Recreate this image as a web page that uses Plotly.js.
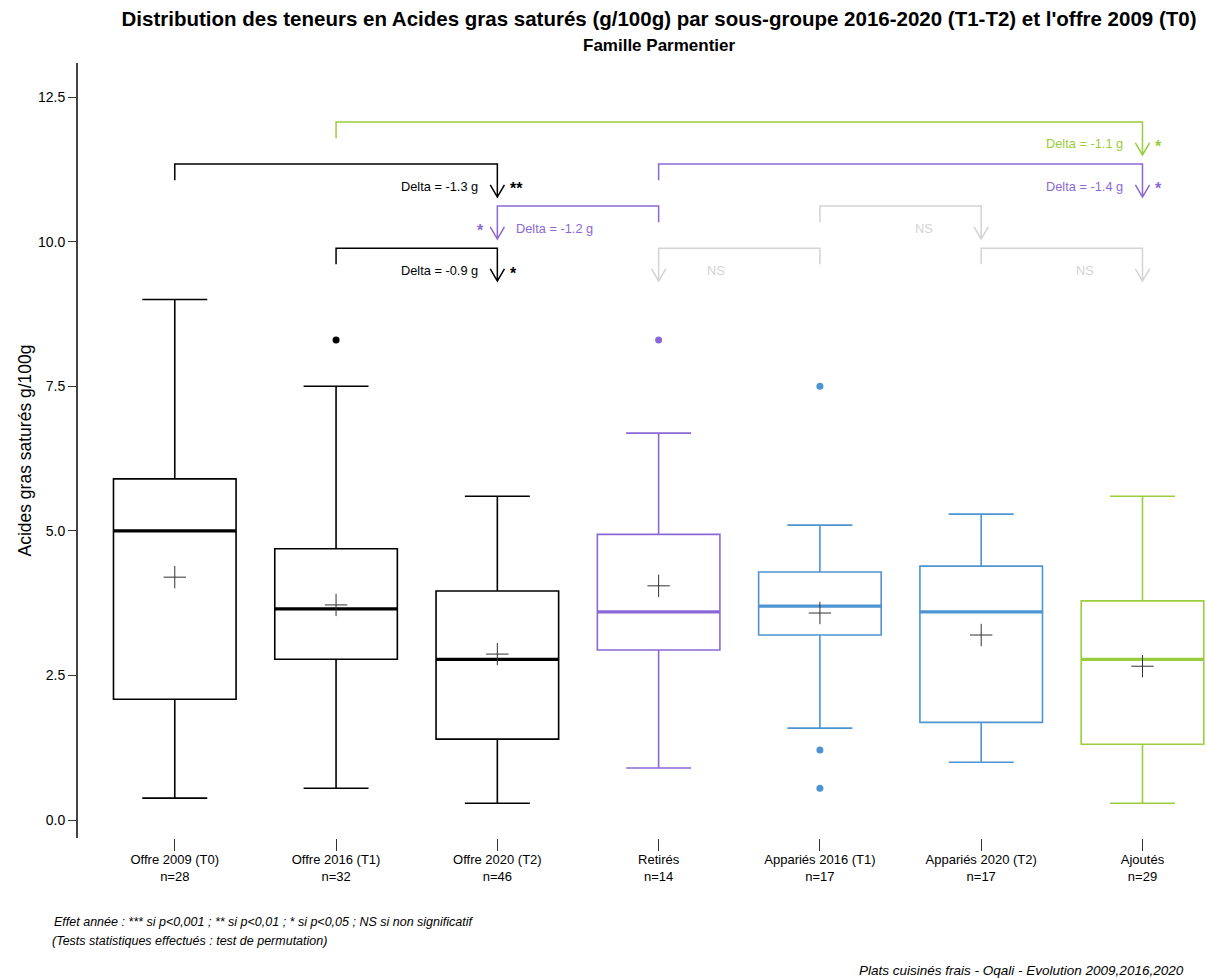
<!DOCTYPE html>
<html>
<head>
<meta charset="utf-8">
<script src="https://cdn.plot.ly/plotly-3.0.1.min.js"></script>
<style>body{margin:0;padding:0;background:#fff;}#chart{width:1207px;height:978px;}</style>
</head>
<body>
<div id="chart"></div>
<script>
// ---- Data ----
const categories = ["Offre 2009 (T0)", "Offre 2016 (T1)", "Offre 2020 (T2)", "Retirés", "Appariés 2016 (T1)", "Appariés 2020 (T2)", "Ajoutés"];
const counts = [28, 32, 46, 14, 17, 17, 29];
const lowerWhisker = [0.38, 0.55, 0.29, 0.90, 1.59, 1.00, 0.29];
const q1Values     = [2.09, 2.78, 1.40, 2.94, 3.20, 1.69, 1.31];
const medians      = [5.00, 3.65, 2.78, 3.60, 3.70, 3.60, 2.78];
const q3Values     = [5.90, 4.69, 3.96, 4.94, 4.29, 4.39, 3.79];
const upperWhisker = [9.00, 7.50, 5.60, 6.69, 5.10, 5.29, 5.60];
const means        = [4.20, 3.72, 2.87, 4.05, 3.58, 3.20, 2.66];
const outlierCat   = [1, 3, 4, 4, 4];
const outlierVal   = [8.30, 8.30, 7.50, 1.21, 0.55];
const groupColors  = ["#000000", "#000000", "#000000", "#8C68D6", "#4E94D2", "#4E94D2", "#9ACD3C"];

// Comparisons (from -> to category index)
const cmpFrom  = [1, 0, 3, 3, 4, 1, 4, 5];
const cmpTo    = [6, 2, 6, 2, 5, 2, 3, 6];
const cmpLevel = [0, 1, 1, 2, 2, 3, 3, 3];
const cmpDelta = [-1.1, -1.3, -1.4, -1.2, null, -0.9, null, null];
const cmpSig   = ["*", "**", "*", "*", "NS", "*", "NS", "NS"];
const cmpColor = ["#9ACD3C", "#000000", "#8C68D6", "#8C68D6", "#D3D3D3", "#000000", "#D3D3D3", "#D3D3D3"];

// ---- Traces ----
const boxW = 0.76;
const traces = [];
categories.forEach((c, i) => {
  traces.push({
    type: "box",
    x: [i],
    q1: [q1Values[i]], median: [medians[i]], q3: [q3Values[i]],
    lowerfence: [lowerWhisker[i]], upperfence: [upperWhisker[i]],
    width: boxW,
    whiskerwidth: 0.53,
    boxpoints: false,
    fillcolor: "rgba(255,255,255,0)",
    line: {color: groupColors[i], width: 1.6},
    hoverinfo: "skip",
    showlegend: false
  });
  // thicker median line
  traces.push({
    type: "scatter", mode: "lines",
    x: [i - boxW / 2, i + boxW / 2], y: [medians[i], medians[i]],
    line: {color: groupColors[i], width: 3.2},
    hoverinfo: "skip", showlegend: false
  });
});
// outliers
traces.push({
  type: "scatter", mode: "markers",
  x: outlierCat, y: outlierVal,
  marker: {color: outlierCat.map(k => groupColors[k]), size: 7},
  hoverinfo: "skip", showlegend: false
});
// means
traces.push({
  type: "scatter", mode: "markers",
  x: categories.map((c, i) => i), y: means,
  marker: {symbol: "cross-thin-open", size: 16, color: "#333333", line: {color: "#333333", width: 1}},
  hoverinfo: "skip", showlegend: false
});

// ---- Brackets ----
const shapes = [];
const annotations = [];
const topY = 12.07, levelStep = 0.727;
const legShort = 0.28, legLong = 0.57, headDx = 0.044, headDy = 0.21, labelDy = 0.38;
const pxX = 1 / 161.3; // category units per pixel
cmpFrom.forEach((f, k) => {
  const t = cmpTo[k];
  const yTop = topY - cmpLevel[k] * levelStep;
  const tip = yTop - legLong;
  const col = cmpColor[k];
  shapes.push({
    type: "path", xref: "x", yref: "y",
    path: `M ${f},${yTop - legShort} L ${f},${yTop} L ${t},${yTop} L ${t},${tip} ` +
          `M ${t - headDx},${tip + headDy} L ${t},${tip} L ${t + headDx},${tip + headDy}`,
    line: {color: col, width: 1.5}
  });
  const rightward = t > f;
  const ly = yTop - labelDy;
  if (cmpSig[k] === "NS") {
    annotations.push({
      x: t + (rightward ? -57 : 57) * pxX, y: ly, xref: "x", yref: "y",
      text: "NS", showarrow: false, xanchor: "center",
      font: {family: "Liberation Sans, Arial, sans-serif", size: 12.8, color: col}
    });
  } else {
    annotations.push({
      x: t + (rightward ? -17 : 17) * pxX, y: ly, xref: "x", yref: "y",
      text: "Delta = " + cmpDelta[k].toFixed(1) + " g", showarrow: false,
      xanchor: rightward ? "right" : "left",
      font: {family: "Liberation Sans, Arial, sans-serif", size: 12.8, color: col}
    });
    annotations.push({
      x: t + (rightward ? 11 : -11) * pxX, y: ly - 0.05, xref: "x", yref: "y",
      text: "<b>" + cmpSig[k] + "</b>", showarrow: false,
      xanchor: rightward ? "left" : "right",
      font: {family: "Liberation Sans, Arial, sans-serif", size: 16, color: col}
    });
  }
});

// ---- Titles & footnotes ----
const plotL = 78, plotW = 1129;
const px2paper = p => (p - plotL) / plotW;
annotations.push({
  xref: "paper", yref: "paper", x: px2paper(659), y: 1, yshift: 18, yanchor: "middle", xanchor: "center",
  text: "<b>Famille Parmentier</b>", showarrow: false,
  font: {family: "Liberation Sans, Arial, sans-serif", size: 17, color: "#000"}
});
annotations.push({
  xref: "paper", yref: "paper", x: px2paper(52), y: 0, yshift: -84, yanchor: "middle", xanchor: "left",
  text: "<i>Effet année : *** si p&lt;0,001 ; ** si p&lt;0,01 ; * si p&lt;0,05 ; NS si non significatif</i>",
  showarrow: false, font: {family: "Liberation Sans, Arial, sans-serif", size: 12.5, color: "#000"}
});
annotations.push({
  xref: "paper", yref: "paper", x: px2paper(50), y: 0, yshift: -103, yanchor: "middle", xanchor: "left",
  text: "<i>(Tests statistiques effectués : test de permutation)</i>",
  showarrow: false, font: {family: "Liberation Sans, Arial, sans-serif", size: 12.5, color: "#000"}
});
annotations.push({
  xref: "paper", yref: "paper", x: px2paper(1186), y: 0, yshift: -132, yanchor: "middle", xanchor: "right",
  text: "<i>Plats cuisinés frais - Oqali - Evolution 2009,2016,2020</i>",
  showarrow: false, font: {family: "Liberation Sans, Arial, sans-serif", size: 13.5, color: "#000"}
});

const layout = {
  width: 1207, height: 978,
  margin: {l: plotL, r: 0, t: 63, b: 140},
  paper_bgcolor: "#fff", plot_bgcolor: "#fff",
  showlegend: false,
  title: {
    text: "<b>Distribution des teneurs en Acides gras saturés (g/100g) par sous-groupe 2016-2020 (T1-T2) et l'offre 2009 (T0)</b>",
    x: px2paper(659), xref: "paper", xanchor: "center",
    y: 0.988, yref: "container", yanchor: "top",
    font: {family: "Liberation Sans, Arial, sans-serif", size: 20.5, color: "#000"}
  },
  xaxis: {
    range: [-0.6, 6.4],
    tickvals: categories.map((c, i) => i),
    ticktext: categories.map((c, i) => c + "<br>n=" + counts[i]),
    ticks: "outside", ticklen: 12, tickcolor: "#333", tickwidth: 1,
    ticklabelstandoff: -3,
    showline: false, showgrid: false, zeroline: false,
    tickfont: {family: "Liberation Sans, Arial, sans-serif", size: 13, color: "#000"}
  },
  yaxis: {
    range: [-0.31, 13.09],
    tickvals: [0, 2.5, 5, 7.5, 10, 12.5],
    tickformat: ".1f",
    ticks: "outside", ticklen: 8, tickcolor: "#333", tickwidth: 1,
    showline: true, linecolor: "#444", linewidth: 2,
    showgrid: false, zeroline: false,
    tickfont: {family: "Liberation Sans, Arial, sans-serif", size: 14, color: "#000"},
    title: {
      text: "Acides gras saturés g/100g", standoff: 2,
      font: {family: "Liberation Sans, Arial, sans-serif", size: 17.5, color: "#000"}
    }
  },
  shapes: shapes,
  annotations: annotations
};

Plotly.newPlot("chart", traces, layout, {staticPlot: true, displayModeBar: false});
</script>
</body>
</html>
